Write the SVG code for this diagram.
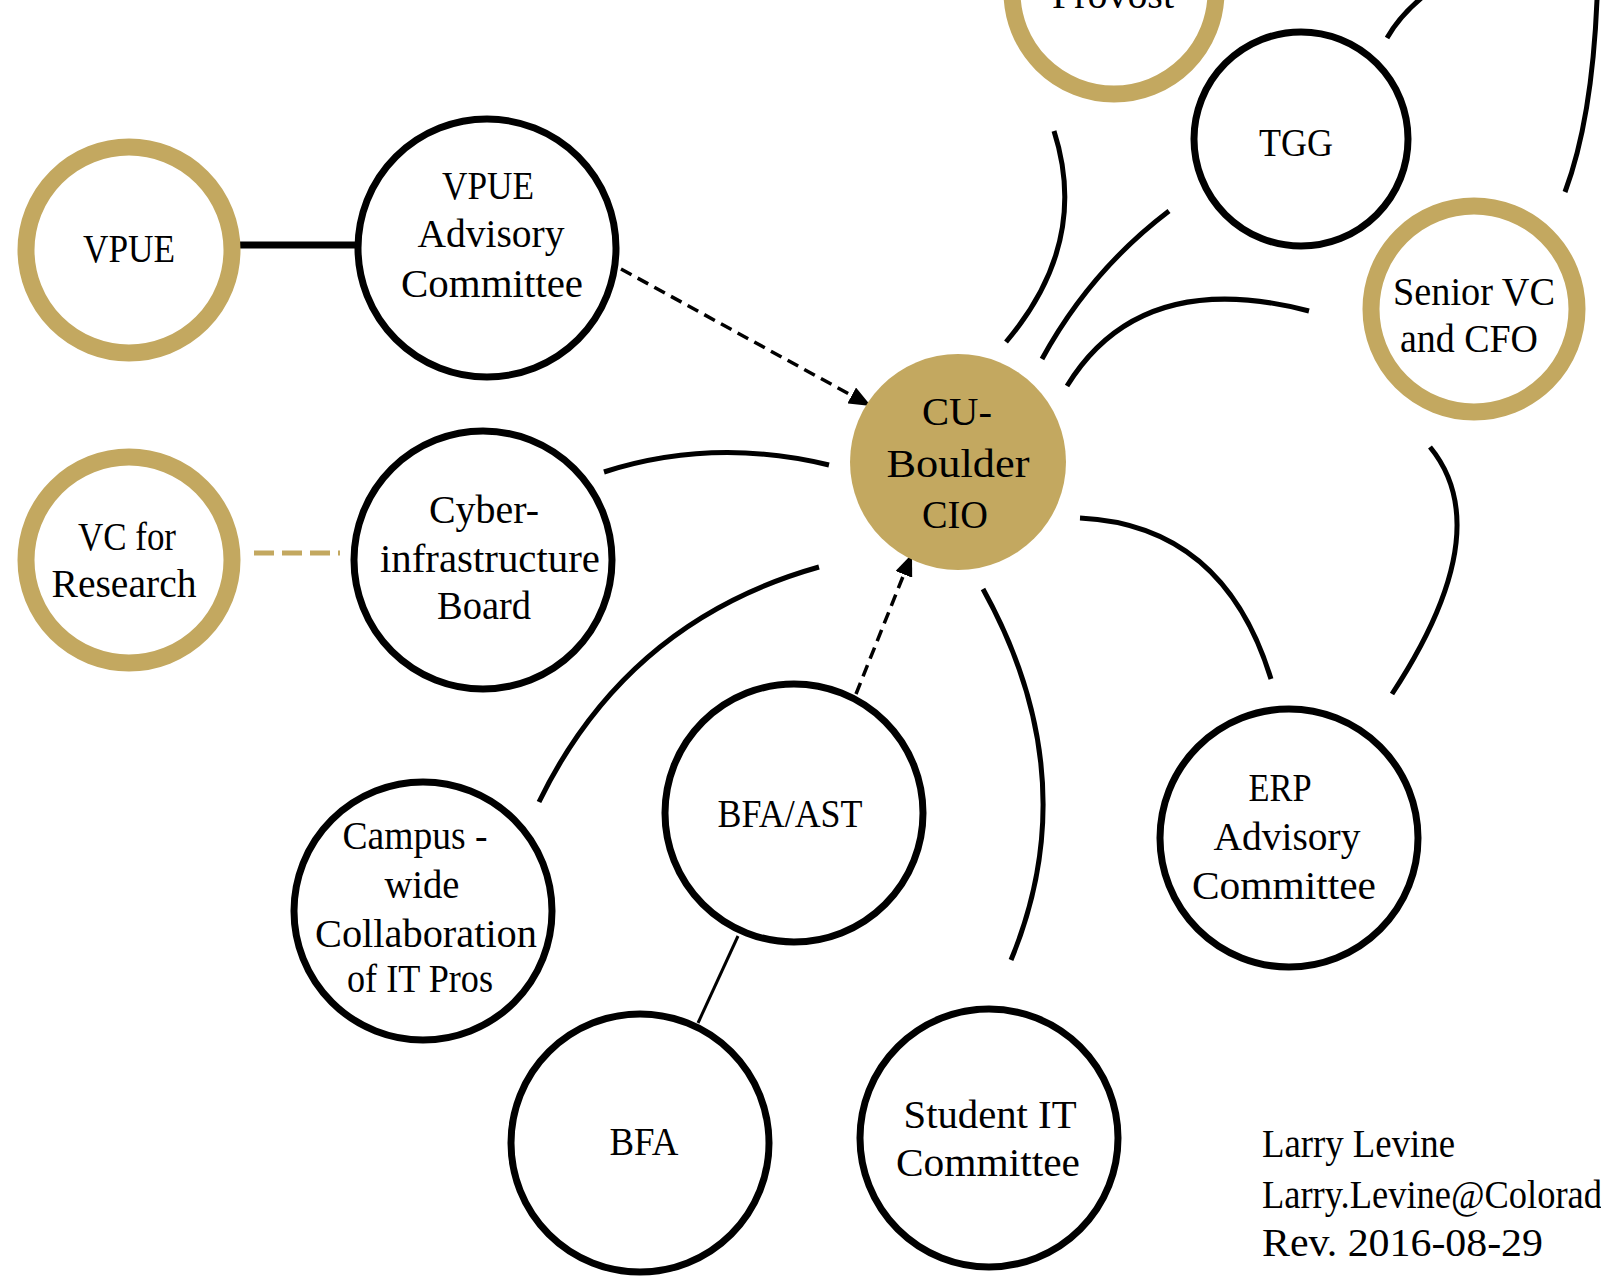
<svg xmlns="http://www.w3.org/2000/svg" width="1601" height="1276" viewBox="0 0 1601 1276">
<style>
.gold{fill:#fff;stroke:#C3A860;stroke-width:17}
.blk{fill:#fff;stroke:#000;stroke-width:7}
.core{fill:#C3A860;stroke:none}
.t{font-family:"Liberation Serif","Times New Roman",serif;font-size:41px;fill:#000;text-anchor:middle}
.tl{font-family:"Liberation Serif","Times New Roman",serif;font-size:41px;fill:#000}
.c{fill:none;stroke:#000;stroke-width:5}
.d{fill:none;stroke:#000;stroke-width:3.5;stroke-dasharray:12 7}
</style>
<defs>
<marker id="ah" viewBox="0 0 22 18" refX="22" refY="9" markerWidth="22" markerHeight="18" markerUnits="userSpaceOnUse" orient="auto">
<path d="M0,0 L22,9 L0,18 z" fill="#000"/>
</marker>
</defs>
<rect width="1601" height="1276" fill="#fff"/>
<g id="connectors">
<line x1="235" y1="245" x2="357" y2="245" stroke="#000" stroke-width="7"/>
<line x1="254" y1="553" x2="340" y2="553" stroke="#C3A860" stroke-width="5" stroke-dasharray="20 8"/>
<path class="d" d="M621,269 L871,406" marker-end="url(#ah)"/>
<path class="d" d="M856,694 L912,554" marker-end="url(#ah)"/>
<line x1="738" y1="936" x2="698" y2="1023" stroke="#000" stroke-width="3"/>
<path class="c" d="M604,472 Q713,437 829,465"/>
<path class="c" d="M539,802 Q627,621 819,567"/>
<path class="c" d="M983,589 Q1087,777 1011,960"/>
<path class="c" d="M1080,518 Q1224,525 1271,679"/>
<path class="c" d="M1430,447 Q1499,531 1392,694"/>
<path class="c" d="M1067,386 Q1140,267 1309,311"/>
<path class="c" d="M1042,359 Q1090,271 1169,211"/>
<path class="c" d="M1006,342 Q1090,243 1054,131"/>
<path class="c" d="M1387,38 Q1400,15 1425,-5"/>
<path class="c" d="M1565,192 Q1592,120 1597,0"/>
</g>
<g id="node-provost">
<circle class="gold" cx="1114" cy="-8" r="102"/>
<text class="t" x="1113" y="8" textLength="122" lengthAdjust="spacingAndGlyphs">Provost</text>
</g>
<g id="node-vpue">
<circle class="gold" cx="129" cy="250" r="103"/>
<text class="t" x="129" y="262" textLength="92" lengthAdjust="spacingAndGlyphs">VPUE</text>
</g>
<g id="node-vpue-advisory">
<circle class="blk" cx="487" cy="248" r="129"/>
<text class="t" x="488" y="199" textLength="92" lengthAdjust="spacingAndGlyphs">VPUE</text>
<text class="t" x="491" y="247" textLength="147" lengthAdjust="spacingAndGlyphs">Advisory</text>
<text class="t" x="492" y="297" textLength="182" lengthAdjust="spacingAndGlyphs">Committee</text>
</g>
<g id="node-vc-research">
<circle class="gold" cx="129" cy="560" r="103"/>
<text class="t" x="127" y="550" textLength="98" lengthAdjust="spacingAndGlyphs">VC for</text>
<text class="t" x="124" y="597" textLength="145" lengthAdjust="spacingAndGlyphs">Research</text>
</g>
<g id="node-cyber">
<circle class="blk" cx="483" cy="560" r="129"/>
<text class="t" x="484" y="523" textLength="110" lengthAdjust="spacingAndGlyphs">Cyber-</text>
<text class="t" x="490" y="572" textLength="220" lengthAdjust="spacingAndGlyphs">infrastructure</text>
<text class="t" x="484" y="619" textLength="94" lengthAdjust="spacingAndGlyphs">Board</text>
</g>
<g id="node-cio">
<circle class="core" cx="958" cy="462" r="108"/>
<text class="t" x="957" y="425" textLength="70" lengthAdjust="spacingAndGlyphs">CU-</text>
<text class="t" x="958" y="477" textLength="143" lengthAdjust="spacingAndGlyphs">Boulder</text>
<text class="t" x="955" y="528" textLength="66" lengthAdjust="spacingAndGlyphs">CIO</text>
</g>
<g id="node-tgg">
<circle class="blk" cx="1301" cy="139" r="107"/>
<text class="t" x="1296" y="156" textLength="74" lengthAdjust="spacingAndGlyphs">TGG</text>
</g>
<g id="node-senior-vc">
<circle class="gold" cx="1474" cy="309" r="103"/>
<text class="t" x="1474" y="305" textLength="162" lengthAdjust="spacingAndGlyphs">Senior VC</text>
<text class="t" x="1469" y="352" textLength="138" lengthAdjust="spacingAndGlyphs">and CFO</text>
</g>
<g id="node-erp">
<circle class="blk" cx="1289" cy="838" r="129"/>
<text class="t" x="1280" y="801" textLength="63" lengthAdjust="spacingAndGlyphs">ERP</text>
<text class="t" x="1287" y="850" textLength="147" lengthAdjust="spacingAndGlyphs">Advisory</text>
<text class="t" x="1284" y="899" textLength="184" lengthAdjust="spacingAndGlyphs">Committee</text>
</g>
<g id="node-campus">
<circle class="blk" cx="423" cy="911" r="129"/>
<text class="t" x="415" y="849" textLength="145" lengthAdjust="spacingAndGlyphs">Campus -</text>
<text class="t" x="422" y="898" textLength="75" lengthAdjust="spacingAndGlyphs">wide</text>
<text class="t" x="426" y="947" textLength="222" lengthAdjust="spacingAndGlyphs">Collaboration</text>
<text class="t" x="420" y="992" textLength="146" lengthAdjust="spacingAndGlyphs">of IT Pros</text>
</g>
<g id="node-bfa-ast">
<circle class="blk" cx="794" cy="813" r="129"/>
<text class="t" x="790" y="827" textLength="145" lengthAdjust="spacingAndGlyphs">BFA/AST</text>
</g>
<g id="node-bfa">
<circle class="blk" cx="640" cy="1143" r="129"/>
<text class="t" x="644" y="1155" textLength="69" lengthAdjust="spacingAndGlyphs">BFA</text>
</g>
<g id="node-student-it">
<circle class="blk" cx="989" cy="1138" r="129"/>
<text class="t" x="990" y="1128" textLength="173" lengthAdjust="spacingAndGlyphs">Student IT</text>
<text class="t" x="988" y="1176" textLength="184" lengthAdjust="spacingAndGlyphs">Committee</text>
</g>
<g id="footer">
<text class="tl" x="1262" y="1157" textLength="193" lengthAdjust="spacingAndGlyphs">Larry Levine</text>
<text class="tl" x="1262" y="1208" textLength="420" lengthAdjust="spacingAndGlyphs">Larry.Levine@Colorado.edu</text>
<text class="tl" x="1262" y="1256" textLength="281" lengthAdjust="spacingAndGlyphs">Rev. 2016-08-29</text>
</g>
</svg>
